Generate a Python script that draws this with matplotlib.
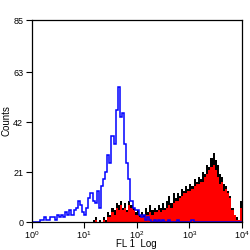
import numpy as np
import matplotlib
matplotlib.use('Agg')
import matplotlib.pyplot as plt

plt.rcParams['font.family'] = ['Liberation Sans', 'DejaVu Sans']
plt.rcParams['mathtext.default'] = 'regular'

# 100 log-spaced channels from 10^0 to 10^4
edges = 10 ** np.linspace(0, 4, 101)

# blue: control (outline)
blue = [0, 0, 0, 0, 1, 1, 2, 1, 1, 2,
        2, 1, 3, 2, 3, 2, 4, 3, 5, 3,
        5, 6, 9, 7, 4, 3, 6, 10, 12, 9,
        8, 13, 6, 15, 18, 21, 28, 25, 36, 33,
        47, 57, 44, 46, 33, 25, 18, 9, 6, 5,
        5, 3, 2, 3, 1, 2, 1, 0, 1, 0,
        1, 0, 1, 0, 0, 1, 0, 0, 0, 1,
        0, 0, 0, 0, 0, 0, 1, 0, 0, 0,
        0, 0, 0, 0, 0, 0, 0, 0, 0, 0,
        0, 0, 0, 0, 0, 0, 0, 0, 0, 0]

# black: stained sample (outer)
black = [0, 0, 0, 0, 0, 0, 0, 0, 0, 0,
         0, 0, 0, 0, 0, 0, 0, 0, 0, 0,
         0, 0, 0, 0, 0, 0, 0, 0, 0, 1,
         2, 0, 1, 0, 2, 1, 4, 3, 6, 5,
         8, 7, 9, 6, 8, 5, 9, 7, 6, 4,
         5, 3, 4, 3, 6, 4, 7, 5, 6, 5,
         7, 6, 8, 6, 9, 11, 8, 12, 10, 12,
         11, 14, 13, 15, 14, 16, 15, 18, 17, 19,
         18, 21, 20, 24, 23, 27, 29, 26, 24, 20,
         19, 16, 15, 13, 11, 6, 3, 2, 1, 9]

# red: stained sample (inner)
red = [0, 0, 0, 0, 0, 0, 0, 0, 0, 0,
       0, 0, 0, 0, 0, 0, 0, 0, 0, 0,
       0, 0, 0, 0, 0, 0, 0, 0, 0, 0,
       1, 0, 0, 0, 1, 0, 2, 2, 4, 3,
       6, 5, 7, 5, 6, 4, 7, 6, 5, 3,
       3, 2, 3, 2, 3, 3, 4, 3, 4, 4,
       5, 4, 5, 5, 6, 7, 6, 8, 9, 9,
       10, 11, 12, 12, 13, 13, 14, 15, 16, 16,
       17, 17, 19, 20, 22, 23, 24, 22, 19, 16,
       17, 13, 14, 12, 10, 5, 3, 1, 1, 6]

yticks = [0, 21, 42, 63, 85]

fig = plt.figure(figsize=(2.5, 2.5), dpi=100)
ax = fig.add_axes([0.126, 0.112, 0.842, 0.808])

ax.stairs(black, edges, fill=True, color='black')
ax.stairs(red, edges, fill=True, color='#ff0000')
ax.stairs(blue, edges, color='#0000ff', linewidth=1.1)

ax.set_xscale('log')
ax.set_xlim(1, 1e4)
ax.set_ylim(0, 85)
ax.set_xticks([1, 10, 100, 1000, 10000])
ax.set_xticklabels(['$10^0$', '$10^1$', '$10^2$', '$10^3$', '$10^4$'])
ax.minorticks_off()
ax.set_yticks(yticks)
ax.tick_params(direction='out', length=4, width=0.8, labelsize=6.5, pad=2)
ax.tick_params(axis='x', pad=1)

for s in ax.spines.values():
    s.set_linewidth(0.9)

ax.set_xlabel('FL 1  Log', fontsize=7, labelpad=-1)
ax.set_ylabel('Counts', fontsize=7, labelpad=1)

fig.savefig('out.png', dpi=100)
